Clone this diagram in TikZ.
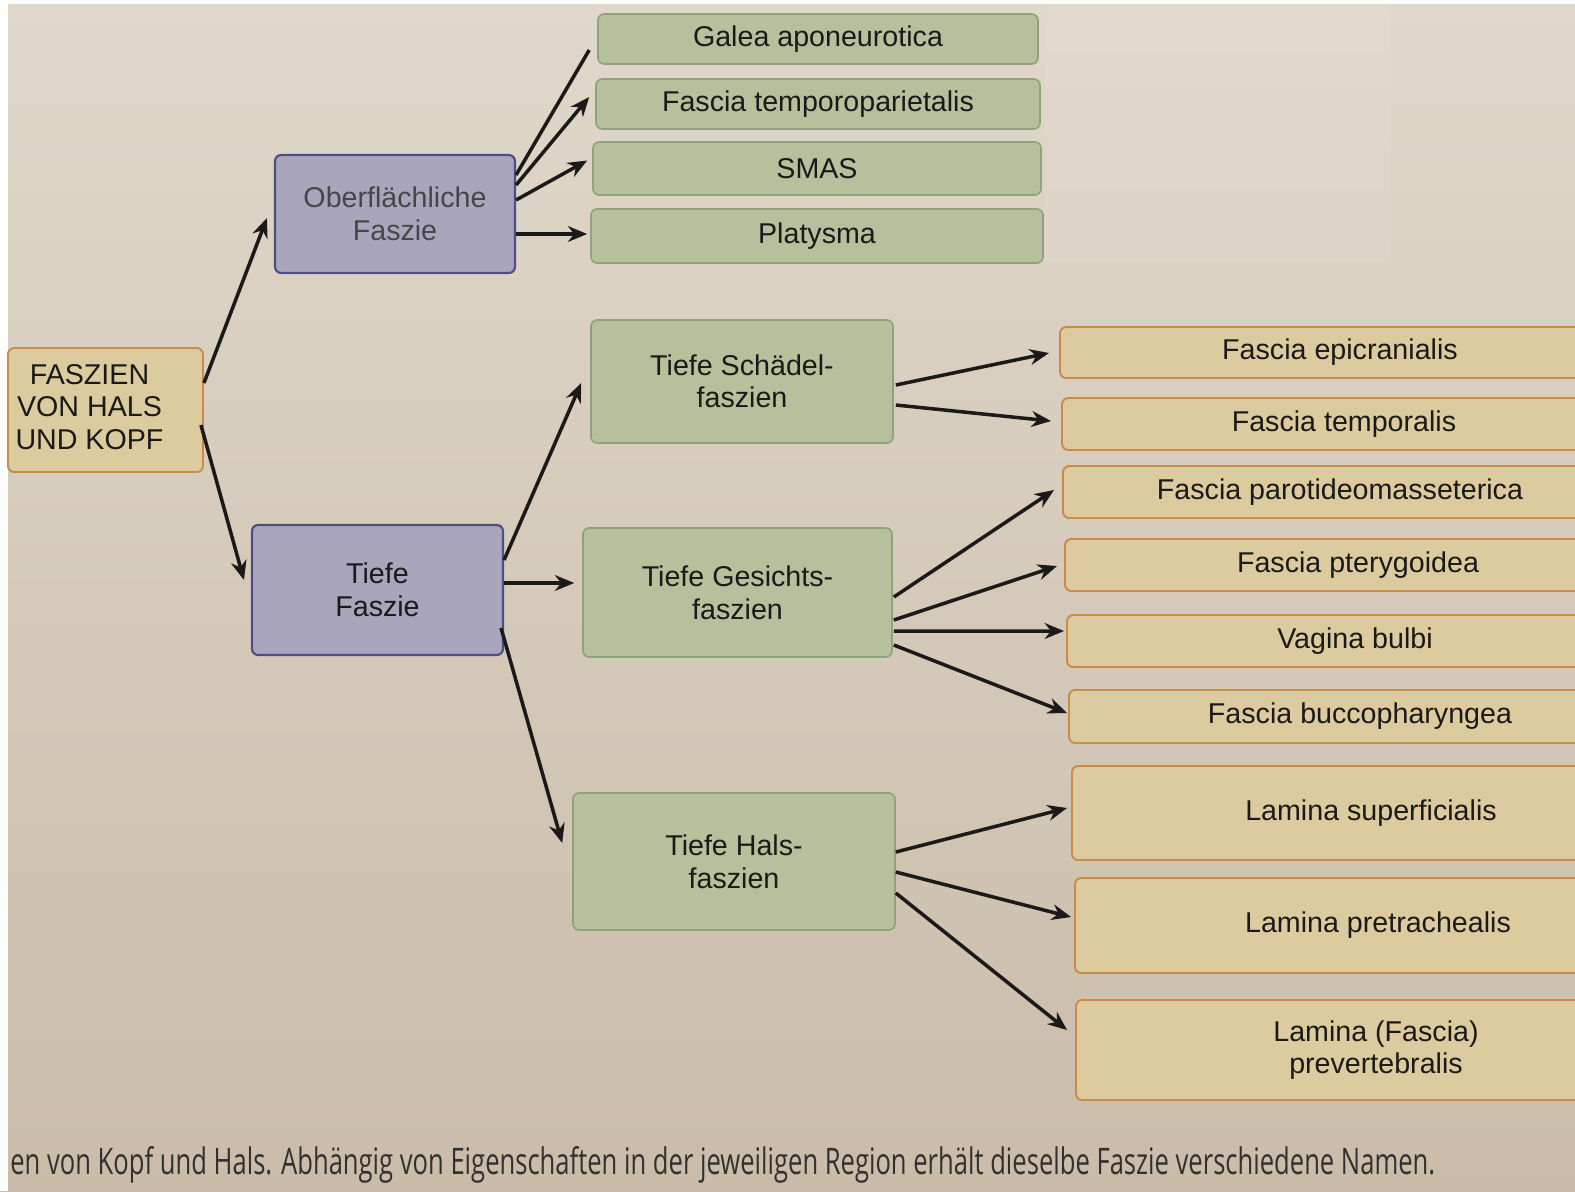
\documentclass[tikz,border=0pt]{standalone}
\usepackage{fontspec}
\setmainfont{Liberation Sans}
\newfontfamily\capfont{Open Sans}
\usetikzlibrary{arrows.meta,calc}
\definecolor{pagetop}{HTML}{E0D8CB}
\definecolor{pagebot}{HTML}{CABCA9}
\definecolor{grfill}{HTML}{B6C09C}
\definecolor{grdraw}{HTML}{8FA27D}
\definecolor{pufill}{HTML}{A8A5BC}
\definecolor{pudraw}{HTML}{4B4F85}
\definecolor{orfill}{HTML}{DCCB9F}
\definecolor{ordraw}{HTML}{CB8A45}
\definecolor{ink}{HTML}{1C1A18}
\tikzset{
  basebox/.style={rounded corners=3.5pt, align=center, inner sep=0pt,
    font=\fontsize{16.3pt}{18.5pt}\selectfont, text=ink},
  greenbox/.style={basebox, fill=grfill, draw=grdraw, line width=0.9pt},
  purplebox/.style={basebox, fill=pufill, draw=pudraw, line width=1.2pt},
  orangebox/.style={basebox, fill=orfill, draw=ordraw, line width=1.1pt},
  arr/.style={draw=ink, line width=2pt, -{Stealth[length=11pt,width=9pt]}},
  plainline/.style={draw=ink, line width=2pt},
  wh/.style 2 args={minimum width={#1*0.02cm}, minimum height={#2*0.02cm}},
}
\begin{document}
\begin{tikzpicture}[x=0.02cm,y=-0.02cm]
\clip (0,0) rectangle (1575,1191);
\shade[top color=pagetop, bottom color=pagebot] (0,0) rectangle (1575,1191);
\fill[white, opacity=0.05] (1045,0) rectangle (1390,262);
\fill[white!94!pagetop] (0,0) rectangle (8,1191);
\fill[white!94!pagetop] (0,0) rectangle (1575,4);

% left column
\node[orangebox, wh={195}{124}] (root) at (105.5,410)
  {\hspace*{-0.64cm}\begin{tabular}{@{}c@{}}FASZIEN\\VON HALS\\UND KOPF\end{tabular}};
\node[purplebox, wh={240}{118}, text=black!72] (ob) at (395,214) {Oberflächliche\\Faszie};
\node[purplebox, wh={251}{130}] (tf) at (377.5,590) {Tiefe\\Faszie};

% superficial targets
\node[greenbox, wh={440}{50}] (galea) at (818,39) {Galea aponeurotica};
\node[greenbox, wh={444}{50}] (ftp) at (818,104) {Fascia temporoparietalis};
\node[greenbox, wh={448}{53}] (smas) at (817,168.5) {SMAS};
\node[greenbox, wh={452}{54}] (plat) at (817,236) {Platysma};

% deep groups
\node[greenbox, wh={302}{123}] (sch) at (742,381.5) {Tiefe Schädel-\\faszien};
\node[greenbox, wh={309}{129}] (ges) at (737.5,592.5) {Tiefe Gesichts-\\faszien};
\node[greenbox, wh={322}{137}] (hals) at (734,861.5) {Tiefe Hals-\\faszien};

% right column
\node[orangebox, wh={560}{51}] (epi) at (1340,352.5) {Fascia epicranialis};
\node[orangebox, wh={564}{52}] (temp) at (1344,424) {Fascia temporalis};
\node[orangebox, wh={554}{52}] (paro) at (1340,492) {Fascia parotideomasseterica};
\node[orangebox, wh={586}{52}] (pter) at (1358,565) {Fascia pterygoidea};
\node[orangebox, wh={576}{52}] (vag) at (1355,641) {Vagina bulbi};
\node[orangebox, wh={582}{53}] (bucc) at (1360,716.5) {Fascia buccopharyngea};
\node[orangebox, wh={598}{94}] (lsup) at (1371,813) {Lamina superficialis};
\node[orangebox, wh={606}{95}] (lpre) at (1378,925.5) {Lamina pretrachealis};
\node[orangebox, wh={600}{100}] (lprev) at (1376,1050) {Lamina (Fascia)\\prevertebralis};

% connectors
\draw[arr] ($(root.east)+(0,-27)$) -- ($(ob.west)+(-7,4)$);
\draw[arr] ($(root.east)+(-3,15)$) -- ($(tf.west)+(-7,-10)$);

\draw[plainline] ($(ob.east)+(0,-39)$) -- ($(galea.west)+(-8,11)$);
\draw[arr] ($(ob.east)+(0,-29)$) -- ($(ftp.west)+(-6,-7)$);
\draw[arr] ($(ob.east)+(0,-14)$) -- ($(smas.west)+(-5,-8)$);
\draw[arr] ($(ob.east)+(0,20)$) -- ($(plat.west)+(-3,-2)$);

\draw[arr] ($(tf.east)+(0,-30)$) -- ($(sch.west)+(-9,1.5)$);
\draw[arr] ($(tf.east)+(0,-7)$) -- ($(ges.west)+(-8,-9.5)$);
\draw[arr] ($(tf.east)+(-3,38)$) -- ($(hals.west)+(-10,-18.5)$);

\draw[arr] ($(sch.east)+(2,3.5)$) -- ($(epi.west)+(-10,0.5)$);
\draw[arr] ($(sch.east)+(2,23.5)$) -- ($(temp.west)+(-10,-3)$);

\draw[arr] ($(ges.east)+(1,4.5)$) -- ($(paro.west)+(-8,-2)$);
\draw[arr] ($(ges.east)+(1,27.5)$) -- ($(pter.west)+(-7,1)$);
\draw[arr] ($(ges.east)+(1,38.5)$) -- ($(vag.west)+(-2,-10)$);
\draw[arr] ($(ges.east)+(1,52.5)$) -- ($(bucc.west)+(-1,-3.5)$);

\draw[arr] ($(hals.east)+(0,-9.5)$) -- ($(lsup.west)+(-4,-5)$);
\draw[arr] ($(hals.east)+(0,10.5)$) -- ($(lpre.west)+(-3,-8.5)$);
\draw[arr] ($(hals.east)+(0,31.5)$) -- ($(lprev.west)+(-8,-20)$);

% caption
\node[anchor=base west, inner sep=0pt, text=ink!90] (cap) at (10,1174)
  {\resizebox{28.5cm}{0.56cm}{\capfont en von Kopf und Hals. Abhängig von Eigenschaften in der jeweiligen Region erhält dieselbe Faszie verschiedene Namen.}};
\end{tikzpicture}
\end{document}
